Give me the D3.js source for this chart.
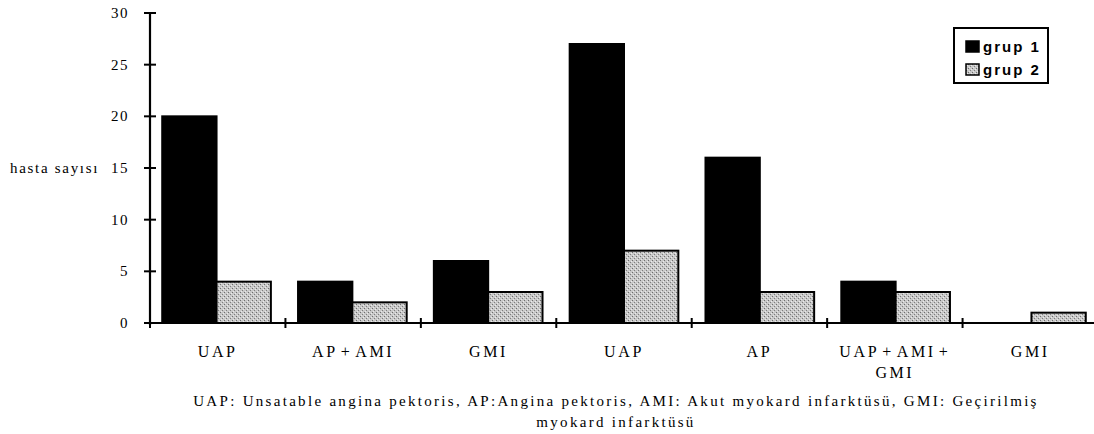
<!DOCTYPE html>
<html><head><meta charset="utf-8">
<script src="https://cdn.jsdelivr.net/npm/d3@7"></script>
<style>body{margin:0;background:#fff}</style>
</head><body>
<svg id="c" width="1094" height="434"></svg>
<script>
const categories = ["UAP","AP+AMI","GMI","UAP","AP","UAP+AMI+\nGMI","GMI"];
const grup1 = [20,4,6,27,16,4,0];
const grup2 = [4,2,3,7,3,3,1];
const seriesNames = ["grup 1","grup 2"];
const yTicks = [0,5,10,15,20,25,30];
const yLabel = "hasta sayısı";
const footnote = ["UAP: Unsatable angina pektoris, AP:Angina pektoris, AMI: Akut myokard infarktüsü, GMI: Geçirilmiş","myokard infarktüsü"];

const svg = d3.select("#c");
const defs = svg.append("defs");
const pat = defs.append("pattern").attr("id","stip").attr("width",4).attr("height",4).attr("patternUnits","userSpaceOnUse");
pat.append("rect").attr("width",4).attr("height",4).attr("fill","#c8c8c8");
pat.append("rect").attr("x",0).attr("y",0).attr("width",1).attr("height",1).attr("fill","#6e6e6e");
pat.append("rect").attr("x",2).attr("y",2).attr("width",1).attr("height",1).attr("fill","#7e7e7e");
pat.append("rect").attr("x",3).attr("y",1).attr("width",1).attr("height",1).attr("fill","#ececec");
pat.append("rect").attr("x",1).attr("y",3).attr("width",1).attr("height",1).attr("fill","#e8e8e8");

const x0 = 150, x1 = 1098, yTop = 13, yBot = 323;
const x = d3.scaleBand().domain(d3.range(categories.length)).range([x0,x1]).paddingInner(0.2).paddingOuter(0.09);
const xs = d3.scaleBand().domain([0,1]).range([0,x.bandwidth()]);
const y = d3.scaleLinear().domain([0,30]).range([yBot,yTop]);
const step = (x1-x0)/categories.length;

const serif = "'Liberation Serif','Times New Roman',serif";

// bars
const data = [grup1, grup2];
data.forEach((vals,si)=>{
  svg.append("g").selectAll("rect").data(vals).join("rect")
    .attr("x",(d,i)=>x(i)+xs(si))
    .attr("y",d=>y(d))
    .attr("width",xs.bandwidth())
    .attr("height",d=>yBot-y(d))
    .attr("fill",si===0?"#000":"url(#stip)")
    .attr("stroke",d=>d>0?"#000":"none")
    .attr("stroke-width",2);
});

// y axis
const ya = svg.append("g");
ya.append("line").attr("x1",x0).attr("x2",x0).attr("y1",yTop).attr("y2",yBot+2).attr("stroke","#000").attr("stroke-width",2.2);
ya.selectAll("line.t").data(yTicks).join("line").attr("class","t")
  .attr("x1",x0-6).attr("x2",x0+6).attr("y1",d=>y(d)).attr("y2",d=>y(d)).attr("stroke","#000").attr("stroke-width",2);
ya.selectAll("text").data(yTicks).join("text")
  .attr("x",129).attr("y",d=>y(d)+5).attr("text-anchor","end")
  .attr("font-family",serif).attr("font-size",15).attr("letter-spacing",1.5).text(d=>d);
svg.append("text").attr("x",10).attr("y",y(15)+5).attr("font-family",serif).attr("font-size",15).attr("letter-spacing",1.7).text(yLabel);

// x axis
const xa = svg.append("g");
xa.append("line").attr("x1",x0-6).attr("x2",1094).attr("y1",yBot).attr("y2",yBot).attr("stroke","#000").attr("stroke-width",2);
xa.selectAll("line.t").data(d3.range(categories.length)).join("line").attr("class","t")
  .attr("x1",(d)=>x0+d*step).attr("x2",d=>x0+d*step).attr("y1",yBot-5).attr("y2",yBot+5).attr("stroke","#000").attr("stroke-width",2);
xa.selectAll("text").data(categories).join("text")
  .attr("text-anchor","middle").attr("font-family",serif).attr("font-size",16).attr("letter-spacing",2.6)
  .each(function(d,i){
    const t = d3.select(this);
    d.split("\n").forEach((ln,k)=>{
      const line = t.append("tspan").attr("x",x0+(i+0.5)*step).attr("y",357+k*21);
      const parts = ln.split("+");
      parts.forEach((p,j)=>{
        if(j>0) line.append("tspan").attr("dx",3).text("+");
        if(p) line.append("tspan").attr("dx",j>0?3:0).text(p);
      });
    });
  });

// footnote
svg.selectAll("text.fn").data(footnote).join("text").attr("class","fn")
  .attr("x",616).attr("y",(d,i)=>406+i*21).attr("text-anchor","middle")
  .attr("font-family",serif).attr("font-size",15).attr("letter-spacing",2.3).text(d=>d);

// legend
const lg = svg.append("g");
lg.append("rect").attr("x",954).attr("y",28).attr("width",94).attr("height",55).attr("fill","#fff").attr("stroke","#000").attr("stroke-width",2);
seriesNames.forEach((n,i)=>{
  lg.append("rect").attr("x",966).attr("y",41+i*23).attr("width",13).attr("height",11)
    .attr("fill",i===0?"#000":"url(#stip)").attr("stroke","#000").attr("stroke-width",1.5);
  lg.append("text").attr("x",983).attr("y",52+i*23).attr("font-family","'Liberation Sans',Arial,sans-serif")
    .attr("font-weight","bold").attr("font-size",15).attr("letter-spacing",2).text(n);
});
</script>
</body></html>
